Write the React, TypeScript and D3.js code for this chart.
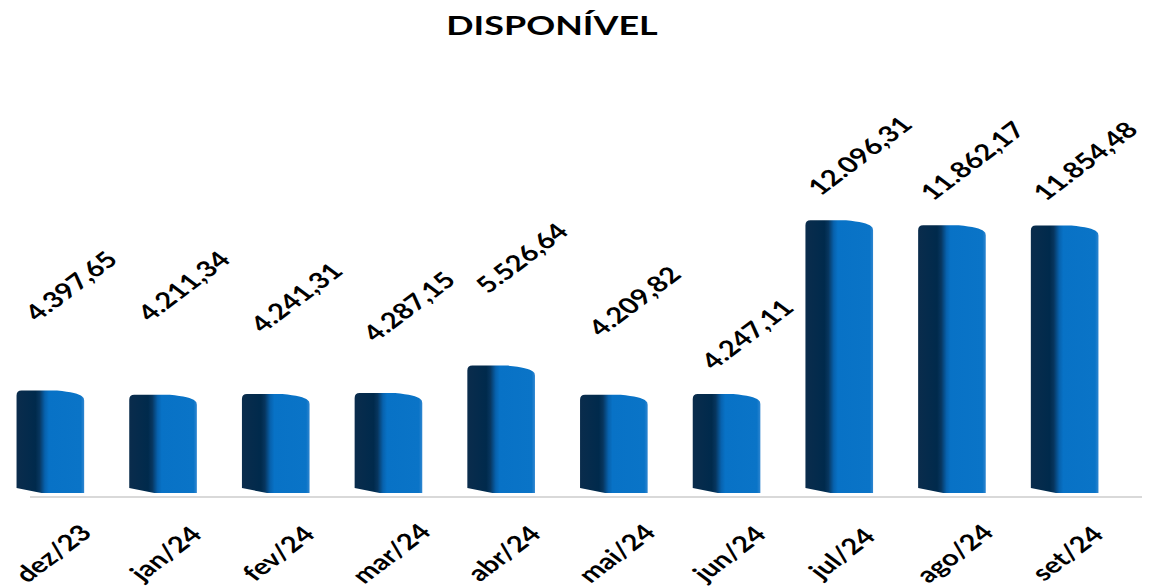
import React from "react";
import * as d3 from "d3";

const categories = ["dez/23", "jan/24", "fev/24", "mar/24", "abr/24", "mai/24", "jun/24", "jul/24", "ago/24", "set/24"];
const values = [4397.65, 4211.34, 4241.31, 4287.15, 5526.64, 4209.82, 4247.11, 12096.31, 11862.17, 11854.48];
const valueLabels = ["4.397,65", "4.211,34", "4.241,31", "4.287,15", "5.526,64", "4.209,82", "4.247,11", "12.096,31", "11.862,17", "11.854,48"];
// vertical lift (px) of each rotated value label above its bar top
const labelLift = [105, 109, 97, 87, 108, 94, 60, 65, 65, 65];

const W = 1155;
const H = 587;
const STRETCH = 1.33;
const FONT = "Lato, 'Open Sans', sans-serif";

export default function App() {
  const x = d3.scaleBand<string>().domain(categories).range([-6, 1121]).paddingInner(0.4).paddingOuter(0.2);
  const y = d3.scaleLinear().domain([0, 14000]).range([488, 178]);
  const bw = x.bandwidth();

  const barPath = (v: number, x0: number) => {
    const y0 = y(v);
    const x1 = x0 + bw;
    const split = x0 + bw * 0.37;
    const p = d3.path();
    p.moveTo(x0, y0 + 5);
    p.quadraticCurveTo(x0, y0, x0 + 5, y0);
    p.lineTo(x0 + bw * 0.6, y0);
    p.quadraticCurveTo(x1 - 6, y0 + 2, x1 - 2, y0 + 6);
    p.quadraticCurveTo(x1, y0 + 7, x1, y0 + 10);
    p.lineTo(x1, 493);
    p.lineTo(split, 493);
    p.lineTo(x0, 488);
    p.closePath();
    return p.toString();
  };

  return (
    <svg width={W} height={H} style={{ position: "absolute", left: 0, top: 0, display: "block", background: "#fff" }}>
      <defs>
        <linearGradient id="barGrad" x1="0" y1="0" x2="1" y2="0">
          <stop offset="0%" stopColor="#0a2c4c" />
          <stop offset="28%" stopColor="#002a4c" />
          <stop offset="34%" stopColor="#07365f" />
          <stop offset="42%" stopColor="#0762ae" />
          <stop offset="48%" stopColor="#0872c6" />
          <stop offset="95%" stopColor="#0a74c7" />
          <stop offset="100%" stopColor="#2f86d0" />
        </linearGradient>
        <linearGradient id="topShade" x1="0" y1="0" x2="0" y2="1">
          <stop offset="0%" stopColor="#000" stopOpacity="0.25" />
          <stop offset="100%" stopColor="#000" stopOpacity="0" />
        </linearGradient>
      </defs>

      <text
        transform={`translate(552,35) scale(${STRETCH},1)`}
        textAnchor="middle"
        fontFamily={FONT}
        fontWeight="bold"
        fontSize={27}
        fill="#000"
      >
        DISPONÍVEL
      </text>

      <line x1={30} x2={1142} y1={497} y2={497} stroke="#d9d9d9" strokeWidth={2} />

      {categories.map((c, i) => {
        const x0 = x(c)!;
        const cx = x0 + bw / 2;
        const y0 = y(values[i]);
        return (
          <g key={c}>
            <path d={barPath(values[i], x0)} fill="url(#barGrad)" />
            <text
              transform={`translate(${cx + 20},${y0 - labelLift[i]}) scale(${STRETCH},1) rotate(-45)`}
              textAnchor="middle"
              dominantBaseline="central"
              fontFamily={FONT}
              fontWeight="bold"
              fontSize={22}
              fill="#000"
            >
              {valueLabels[i]}
            </text>
            <text
              transform={`translate(${cx + 2},553) scale(${STRETCH},1) rotate(-45)`}
              textAnchor="middle"
              dominantBaseline="central"
              fontFamily={FONT}
              fontWeight="bold"
              fontSize={22}
              fill="#000"
            >
              {c}
            </text>
          </g>
        );
      })}
    </svg>
  );
}
